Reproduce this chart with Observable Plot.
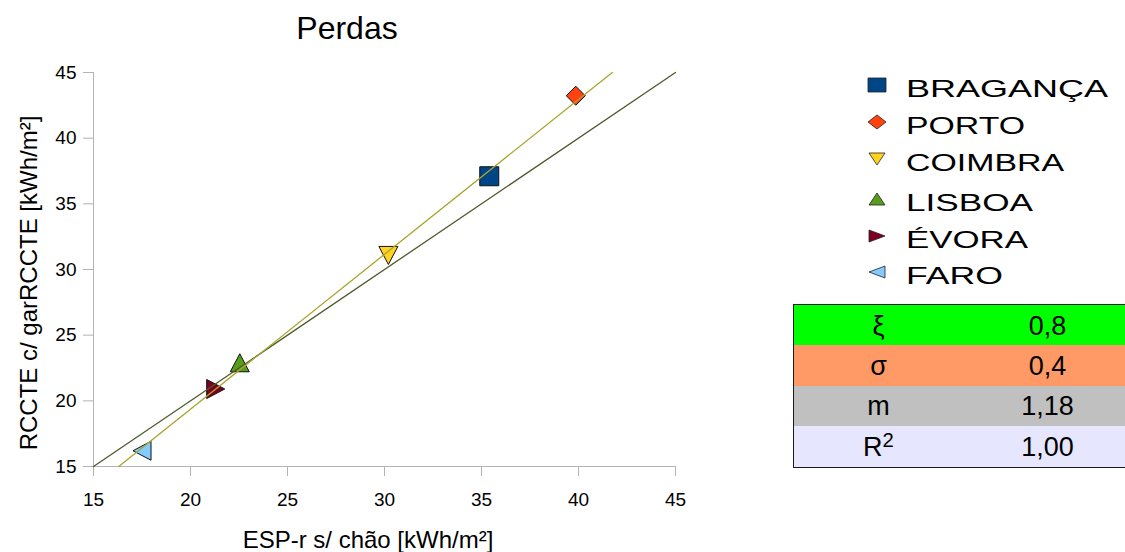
<!DOCTYPE html>
<html>
<head>
<meta charset="utf-8">
<script src="https://cdn.jsdelivr.net/npm/d3@7"></script>
<script src="https://cdn.jsdelivr.net/npm/@observablehq/plot@0.6"></script>
<style>
  html, body { margin: 0; padding: 0; background: #fff; }
  #wrap { position: relative; width: 1125px; height: 552px; overflow: hidden; background: #fff;
          font-family: "Liberation Sans", Arial, sans-serif; }
  #chart { position: absolute; left: 0; top: 0; }
  #overlay { position: absolute; left: 0; top: 0; pointer-events: none; }
  #table { position: absolute; left: 793px; top: 304px; width: 340px;
           border-top: 1.5px solid #1a1a1a; border-left: 1.5px solid #1a1a1a; border-bottom: 1.5px solid #1a1a1a;
           box-sizing: border-box; }
  .row { display: flex; height: 40.4px; align-items: center; font-size: 27px; color: #000; }
  .row div { text-align: center; line-height: 40px; padding-top: 1px; }
  .c1 { width: 169px; }
  .c2 { width: 169px; }
  sup { font-size: 0.75em; vertical-align: 0.45em; line-height: 0; }
</style>
</head>
<body>
<div id="wrap">
  <div id="chart"></div>
  <svg id="overlay" width="1125" height="552"></svg>
  <div id="table"></div>
</div>
<script>
// ---- data ----
const cities = ["BRAGANÇA", "PORTO", "COIMBRA", "LISBOA", "ÉVORA", "FARO"];
const espR   = [35.4, 39.86, 30.2, 22.54, 21.3, 17.5];   // ESP-r s/ chão [kWh/m²]
const rccte  = [37.1, 43.23, 31.07, 22.9, 20.9, 16.2];    // RCCTE c/ garRCCTE [kWh/m²]
const cityColors = ["#004586", "#ff420e", "#ffd320", "#579d1c", "#7e0021", "#83caff"];
const cityShapes = ["square", "diamond", "down", "up", "right", "left"];

const refX = [15, 45], refY = [15, 45];          // y = x reference line
const trendX = [16.3, 41.74], trendY = [15, 45]; // fitted line, m = 1,18

const axisTicks = [15, 20, 25, 30, 35, 40, 45];

const tableLabels = ["ξ", "σ", "m", "R2"];
const tableValues = ["0,8", "0,4", "1,18", "1,00"];
const tableColors = ["#00ff00", "#ff9966", "#c0c0c0", "#e6e6ff"];

const legendWidths = [202, 119, 158, 127, 122, 97];

// ---- symbols ----
function makeSymbol(kind) {
  return {
    draw(ctx, size) {
      const s = Math.sqrt(size / Math.PI);
      if (kind === "square") { ctx.moveTo(-s, -s); ctx.lineTo(s, -s); ctx.lineTo(s, s); ctx.lineTo(-s, s); ctx.closePath(); }
      else if (kind === "diamond") { ctx.moveTo(0, -s); ctx.lineTo(s, 0); ctx.lineTo(0, s); ctx.lineTo(-s, 0); ctx.closePath(); }
      else if (kind === "down") { const h = s * 0.95; ctx.moveTo(-s, -h); ctx.lineTo(s, -h); ctx.lineTo(0, h); ctx.closePath(); }
      else if (kind === "up") { const h = s * 0.95; ctx.moveTo(0, -h); ctx.lineTo(s, h); ctx.lineTo(-s, h); ctx.closePath(); }
      else if (kind === "right") { const h = s * 0.95; ctx.moveTo(-h, -s); ctx.lineTo(h, 0); ctx.lineTo(-h, s); ctx.closePath(); }
      else if (kind === "left") { const h = s * 0.95; ctx.moveTo(h, -s); ctx.lineTo(-h, 0); ctx.lineTo(h, s); ctx.closePath(); }
    }
  };
}

const points = cities.map((c, i) => ({city: c, x: espR[i], y: rccte[i]}));
const refLine = refX.map((x, i) => ({x, y: refY[i]}));
const trendLine = trendX.map((x, i) => ({x, y: trendY[i]}));

const chart = Plot.plot({
  width: 700, height: 552,
  marginLeft: 93, marginRight: 25, marginTop: 72, marginBottom: 86,
  style: {fontFamily: "'Liberation Sans', Arial, sans-serif", fontSize: "19px", background: "transparent", overflow: "visible", color: "#000"},
  x: {domain: [15, 45], label: null},
  y: {domain: [15, 45], label: null},
  color: {domain: cities, range: cityColors},
  symbol: {domain: cities, range: cityShapes.map(makeSymbol)},
  marks: [
    Plot.ruleX([15], {y1: 15, y2: 45, stroke: "#b3b3b3", strokeWidth: 1}),
    Plot.ruleY([15], {x1: 15, x2: 45, stroke: "#b3b3b3", strokeWidth: 1}),
    Plot.axisX({ticks: axisTicks, tickSize: 10, tickPadding: 16, stroke: "#b3b3b3", fill: "#000", fontSize: 19, label: null, tickFormat: d => String(d)}),
    Plot.axisY({ticks: axisTicks, tickSize: 10, tickPadding: 7, stroke: "#b3b3b3", fill: "#000", fontSize: 19, label: null, tickFormat: d => String(d)}),
    Plot.dot(points, {x: "x", y: "y", symbol: "city", fill: "city", stroke: "#111", strokeWidth: 1, r: 9.5}),
    Plot.line(refLine, {x: "x", y: "y", stroke: "#4e5b2c", strokeWidth: 1.3}),
    Plot.line(trendLine, {x: "x", y: "y", stroke: "#aaa42c", strokeWidth: 1.3})
  ]
});
document.getElementById("chart").appendChild(chart);

// ---- overlay texts & legend ----
const NS = "http://www.w3.org/2000/svg";
const ov = document.getElementById("overlay");
function el(tag, attrs, text) {
  const e = document.createElementNS(NS, tag);
  for (const k in attrs) e.setAttribute(k, attrs[k]);
  if (text != null) e.textContent = text;
  ov.appendChild(e);
  return e;
}
const FF = "'Liberation Sans', Arial, sans-serif";
el("text", {x: 347, y: 39, "text-anchor": "middle", "font-size": 32, "font-family": FF, fill: "#000"}, "Perdas");
el("text", {x: 368, y: 548, "text-anchor": "middle", "font-size": 24, "font-family": FF, fill: "#000"}, "ESP-r s/ chão [kWh/m²]");
el("text", {x: 0, y: 0, "text-anchor": "middle", "font-size": 24, "font-family": FF, fill: "#000",
            transform: "translate(37,283) rotate(-90)"}, "RCCTE c/ garRCCTE [kWh/m²]");

const legendY = [85, 122, 159, 199, 236, 272];
function legendPath(kind, cx, cy) {
  const w = 9, h = 7;
  if (kind === "square") return `M${cx-w},${cy-h}H${cx+w}V${cy+h}H${cx-w}Z`;
  if (kind === "diamond") return `M${cx},${cy-h}L${cx+w},${cy}L${cx},${cy+h}L${cx-w},${cy}Z`;
  const a = 8, b = 6;
  if (kind === "down") return `M${cx-a},${cy-b}L${cx+a},${cy-b}L${cx},${cy+b}Z`;
  if (kind === "up") return `M${cx},${cy-b}L${cx+a},${cy+b}L${cx-a},${cy+b}Z`;
  if (kind === "right") return `M${cx-a},${cy-b}L${cx+a},${cy}L${cx-a},${cy+b}Z`;
  return `M${cx+a},${cy-b}L${cx-a},${cy}L${cx+a},${cy+b}Z`;
}
cities.forEach((c, i) => {
  el("path", {d: legendPath(cityShapes[i], 877, legendY[i]), fill: cityColors[i], stroke: "#222", "stroke-width": 0.8});
  el("text", {x: 906, y: legendY[i] + 12, "font-size": 24, "font-family": FF, fill: "#000",
              textLength: legendWidths[i], lengthAdjust: "spacingAndGlyphs"}, c);
});

// ---- parameter table ----
const tbl = document.getElementById("table");
tableLabels.forEach((lab, i) => {
  const r = document.createElement("div");
  r.className = "row";
  r.style.background = tableColors[i];
  const a = document.createElement("div");
  a.className = "c1";
  if (lab === "R2") { a.innerHTML = "R<sup>2</sup>"; } else { a.textContent = lab; }
  const b = document.createElement("div");
  b.className = "c2";
  b.textContent = tableValues[i];
  r.appendChild(a); r.appendChild(b);
  tbl.appendChild(r);
});
</script>
</body>
</html>
